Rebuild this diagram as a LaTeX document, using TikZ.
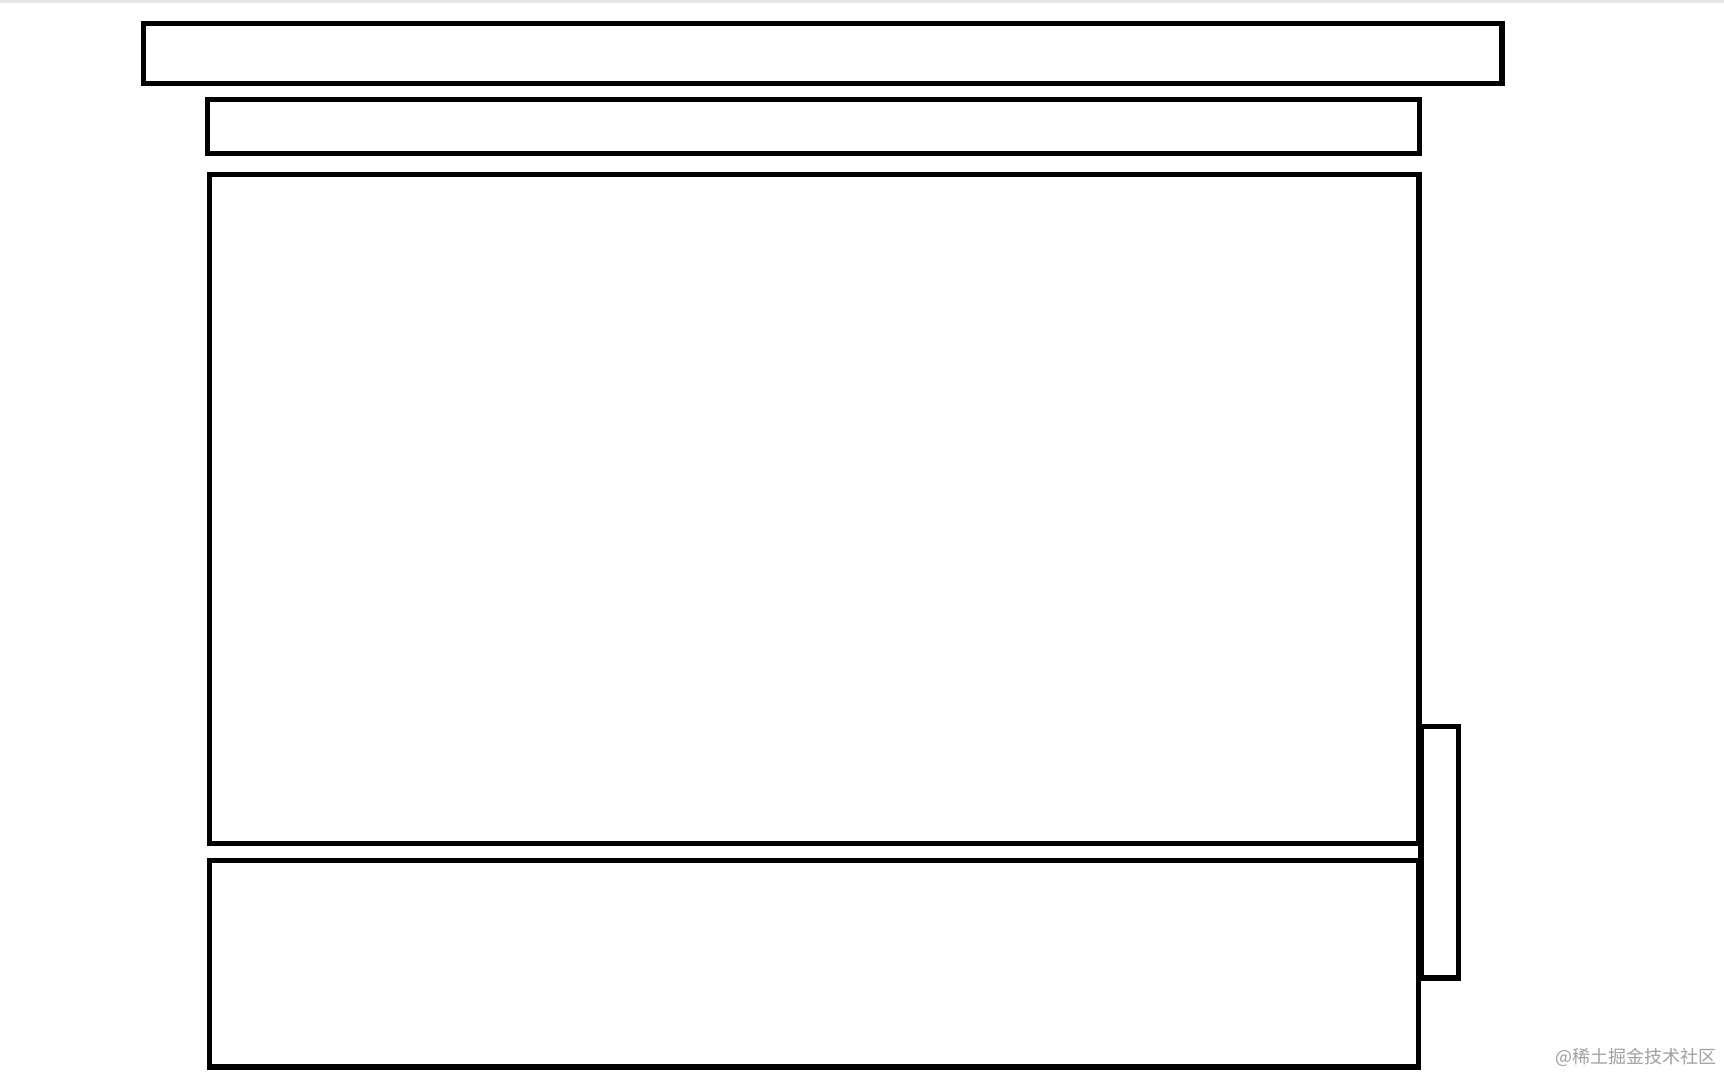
\documentclass[tikz,border=0pt]{standalone}
\usepackage{fontspec}
\newfontfamily\cjk{Noto Sans CJK SC}
\begin{document}
\begin{tikzpicture}[x=0.5pt,y=0.5pt,yscale=-1,xscale=1]
			\useasboundingbox (0,0) rectangle (1724,1073);
			
			%Straight Lines: page edge
			\draw [color={rgb, 255:red, 230; green, 230; blue, 230 }  ,line width=1.5pt]   (0,1) -- (1724,1) ;
			%Shape: Rectangle [top]
			\draw  [line width=2.6pt]  (143.5,23.5) -- (1502,23.5) -- (1502,83.5) -- (143.5,83.5) -- cycle ;
			%Shape: Rectangle [second]
			\draw  [line width=2.6pt]  (207.5,99.5) -- (1419.5,99.5) -- (1419.5,153.5) -- (207.5,153.5) -- cycle ;
			%Shape: Rectangle [side]
			\draw  [line width=2.6pt]  (1421,726.5) -- (1458.5,726.5) -- (1458.5,978) -- (1421,978) -- cycle ;
			%Shape: Rectangle [main]
			\draw  [line width=2.6pt]  (209.5,174.5) -- (1419,174.5) -- (1419,843.5) -- (209.5,843.5) -- cycle ;
			%Shape: Rectangle [bottom]
			\draw  [line width=2.6pt]  (209.5,860.5) -- (1418.5,860.5) -- (1418.5,1067) -- (209.5,1067) -- cycle ;
			
			% Text Node
			\draw (1718,1057) node (wm) [anchor=east][inner sep=0.75pt]  [font=\cjk\fontsize{9}{10}\selectfont,color={rgb, 255:red, 160; green, 160; blue, 160 }]  {@稀土掘金技术社区};
\end{tikzpicture}
\end{document}
